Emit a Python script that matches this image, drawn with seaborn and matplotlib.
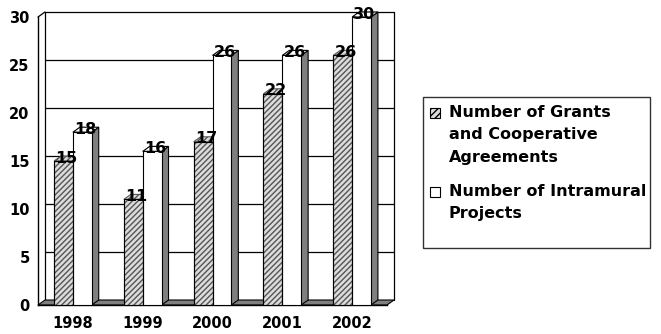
import numpy as np
import pandas as pd
import matplotlib
matplotlib.use('Agg')
import matplotlib.pyplot as plt
from matplotlib.patches import Polygon, Rectangle
import seaborn as sns

# data
years = ['1998', '1999', '2000', '2001', '2002']
grants = [15, 11, 17, 22, 26]
intramural = [18, 16, 26, 26, 30]
series_names = ['Number of Grants\nand Cooperative\nAgreements',
                'Number of Intramural\nProjects']

df = pd.DataFrame({
    'year': years * 2,
    'count': grants + intramural,
    'series': [series_names[0]] * len(years) + [series_names[1]] * len(years),
})

sns.set_style('white')
plt.rcParams['font.family'] = ['DejaVu Sans']
plt.rcParams['font.weight'] = 'bold'
plt.rcParams['text.color'] = 'black'
plt.rcParams['xtick.color'] = 'black'
plt.rcParams['ytick.color'] = 'black'
plt.rcParams['xtick.labelcolor'] = 'black'
plt.rcParams['ytick.labelcolor'] = 'black'

fig = plt.figure(figsize=(6.61, 3.34), dpi=100)
ax = fig.add_axes([38 / 661, 29 / 334, 349 / 661, 288 / 334])
ax.set_facecolor('none')

# fake 3d depth (data units)
dx, dy = 0.1, 0.52
side_col = '#7f7f7f'
hatch_face = '#dcdcdc'

sns.barplot(data=df, x='year', y='count', hue='series', width=0.54,
            palette=[hatch_face, 'white'], edgecolor='black', linewidth=0.8,
            legend=False, ax=ax, zorder=3)
ax.set_xlim(-0.5, 4.5)
ax.set_ylim(0, 30)

# back wall, floor
x_left, x_right = -0.5, 4.5
for yv in range(5, 31, 5):
    ax.plot([x_left + dx, x_right + dx], [yv + dy, yv + dy], color='black', lw=0.9,
            zorder=1, clip_on=False)
ax.plot([x_left + dx, x_left + dx], [dy, 30 + dy], color='black', lw=0.9, zorder=1, clip_on=False)
ax.plot([x_right + dx, x_right + dx], [dy, 30 + dy], color='black', lw=0.9, zorder=1, clip_on=False)
ax.plot([x_left, x_left + dx], [30, 30 + dy], color='black', lw=0.9, zorder=1, clip_on=False)
ax.add_patch(Polygon([(x_left, 0), (x_right, 0), (x_right + dx, dy), (x_left + dx, dy)],
                     closed=True, facecolor=side_col, edgecolor='black', lw=0.8,
                     zorder=1.5, clip_on=False))

bars = ax.patches[:]
n = len(years)
for i, p in enumerate(bars):
    if not isinstance(p, Rectangle) or p.get_height() <= 0:
        continue
    x0, w, h = p.get_x(), p.get_width(), p.get_height()
    hatched = i < n
    # right side face
    ax.add_patch(Polygon([(x0 + w, 0), (x0 + w, h), (x0 + w + dx, h + dy), (x0 + w + dx, dy)],
                         closed=True, facecolor=side_col, edgecolor='black', lw=0.8,
                         zorder=2, clip_on=False))
    # top face
    top = Polygon([(x0, h), (x0 + w, h), (x0 + w + dx, h + dy), (x0 + dx, h + dy)],
                  closed=True, facecolor=hatch_face if hatched else 'white',
                  edgecolor='#555555' if hatched else 'black', lw=0.8,
                  zorder=2.5, clip_on=False)
    if hatched:
        top.set_hatch('//////')
    ax.add_patch(top)
    if hatched:
        p.set_hatch('//////')
        p.set_edgecolor('#555555')
        ax.add_patch(Rectangle((x0, 0), w, h, fill=False, edgecolor='black', lw=0.8, zorder=3.5))
    ax.text(x0 + w / 2 + dx * 0.4, h + 0.3, f'{int(h)}', ha='center', va='center',
            fontsize=11.5, fontweight='bold', zorder=6, clip_on=False)

# axes styling
for s in ['top', 'right']:
    ax.spines[s].set_visible(False)
for s in ['left', 'bottom']:
    ax.spines[s].set_color('black')
    ax.spines[s].set_linewidth(1)
ax.set_yticks(range(0, 31, 5))
ax.set_xticks(np.arange(-0.5, 5, 1), minor=True)
ax.tick_params(axis='x', which='major', length=0, pad=8, labelsize=10.5)
ax.tick_params(axis='x', which='minor', length=4, direction='out', color='black')
ax.tick_params(axis='y', length=4, direction='out', pad=2, labelsize=10.5, color='black')
ax.set_xlabel('')
ax.set_ylabel('')
for t in ax.get_xticklabels() + ax.get_yticklabels():
    t.set_fontweight('bold')

# legend box drawn by hand to match the padding of the original
W, H = 661, 334
fig.patches.append(Rectangle((423 / W, 1 - 248 / H), 227 / W, 151 / H, transform=fig.transFigure,
                             fill=False, edgecolor='#333333', lw=1))
legend_rows = [(107, hatch_face, True), (186, 'white', False)]
for (ytop, fc, hatched), name in zip(legend_rows, series_names):
    sq = Rectangle((430 / W, 1 - (ytop + 11) / H), 10 / W, 10 / H, transform=fig.transFigure,
                   facecolor=fc, edgecolor='black', lw=0.8)
    if hatched:
        sq.set_hatch('/////')
    fig.patches.append(sq)
    fig.text(449 / W, 1 - (ytop - 2) / H, name, ha='left', va='top', fontsize=11.5,
             fontweight='bold', linespacing=1.62)

fig.savefig('out.png', dpi=100)
